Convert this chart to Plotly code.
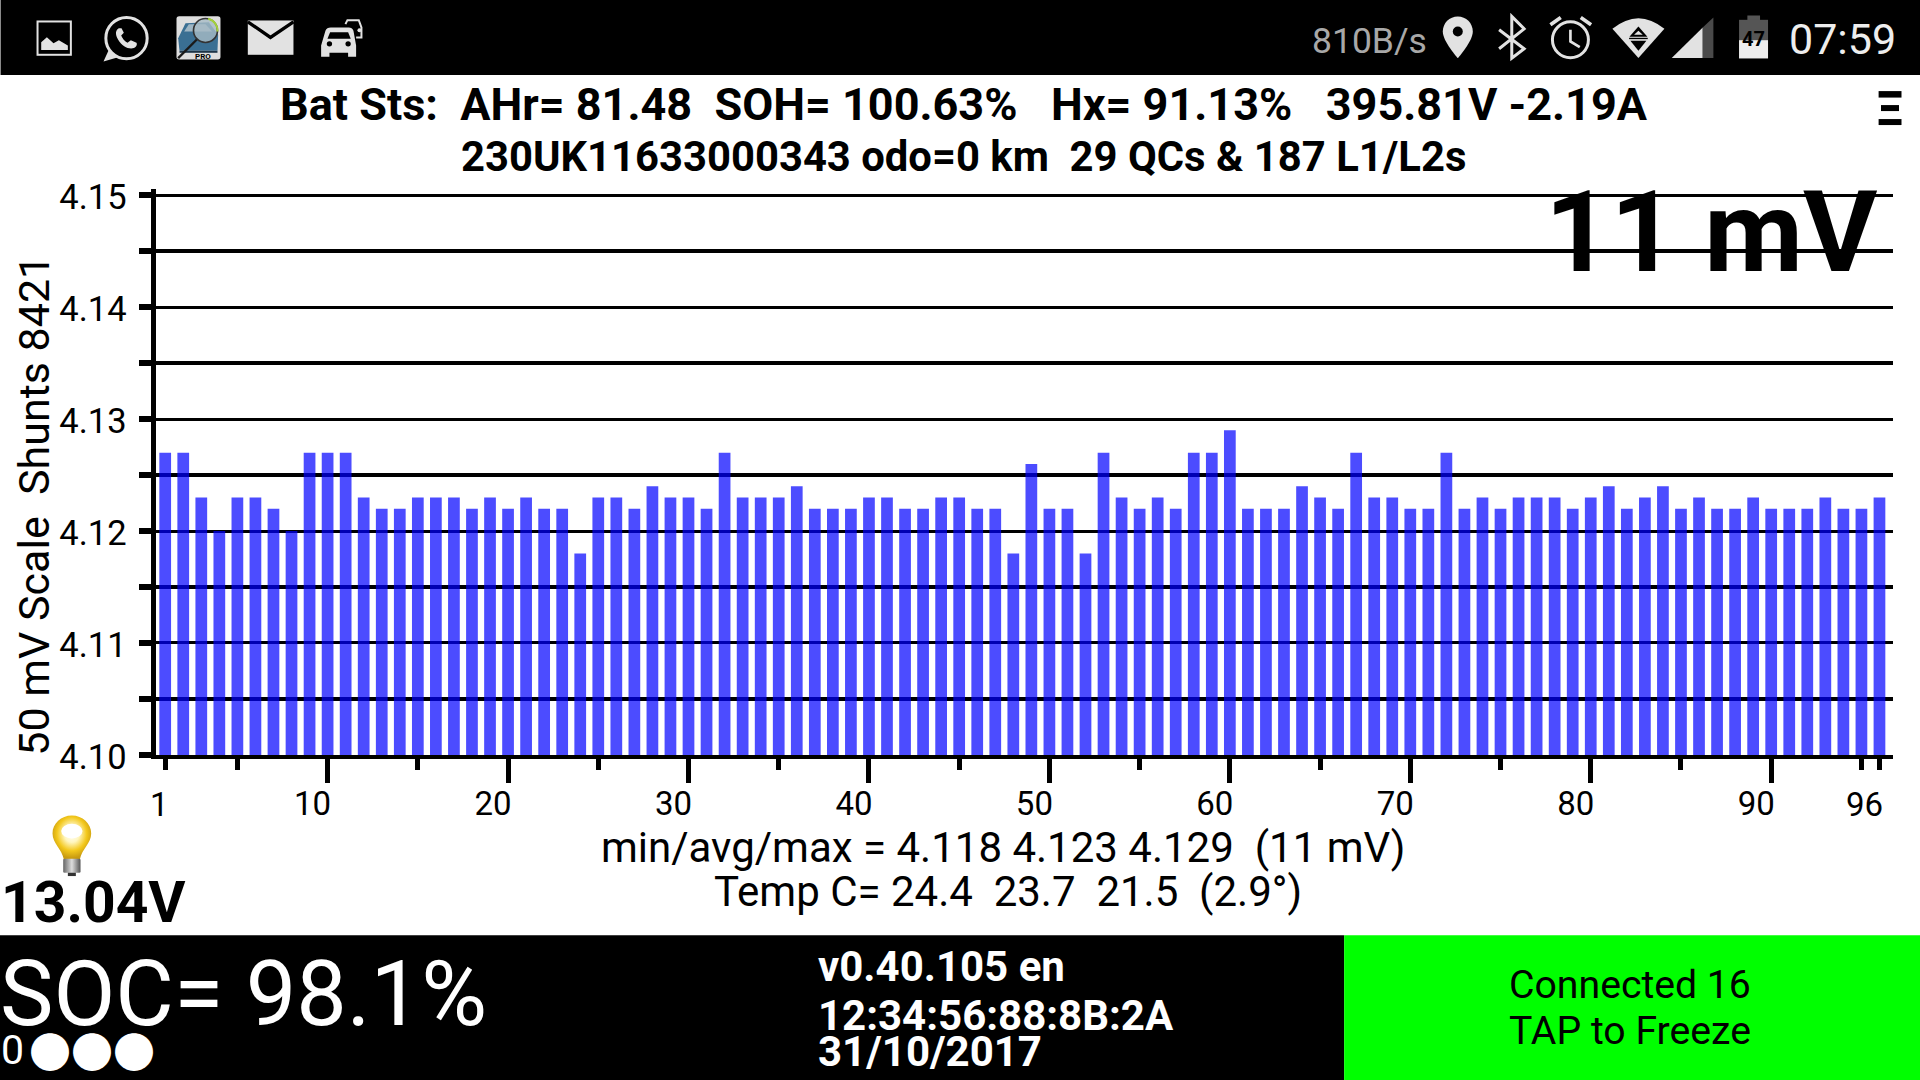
import base64
import plotly.graph_objects as go

cells = list(range(1, 97))
volts = [
    4.127, 4.127, 4.123, 4.120, 4.123, 4.123, 4.122, 4.120, 4.127, 4.127, 4.127, 4.123,
    4.122, 4.122, 4.123, 4.123, 4.123, 4.122, 4.123, 4.122, 4.123, 4.122, 4.122, 4.118,
    4.123, 4.123, 4.122, 4.124, 4.123, 4.123, 4.122, 4.127, 4.123, 4.123, 4.123, 4.124,
    4.122, 4.122, 4.122, 4.123, 4.123, 4.122, 4.122, 4.123, 4.123, 4.122, 4.122, 4.118,
    4.126, 4.122, 4.122, 4.118, 4.127, 4.123, 4.122, 4.123, 4.122, 4.127, 4.127, 4.129,
    4.122, 4.122, 4.122, 4.124, 4.123, 4.122, 4.127, 4.123, 4.123, 4.122, 4.122, 4.127,
    4.122, 4.123, 4.122, 4.123, 4.123, 4.123, 4.122, 4.123, 4.124, 4.122, 4.123, 4.124,
    4.122, 4.123, 4.122, 4.122, 4.123, 4.122, 4.122, 4.122, 4.123, 4.122, 4.122, 4.123,
]
y_major = [4.10, 4.11, 4.12, 4.13, 4.14, 4.15]
y_minor = [4.105, 4.115, 4.125, 4.135, 4.145]
x_major = [10, 20, 30, 40, 50, 60, 70, 80, 90]
x_minor = [1, 5, 15, 25, 35, 45, 55, 65, 75, 85, 95, 96]

W, H = 1920, 1080
L, R, T, B = 155.5, 1893, 189, 755.5
FONT = "Roboto"


def px(x):
    return (x - L) / (R - L)


def py(y):
    return 1 - (y - T) / (B - T)


def text(s, x, y, size, color="#000000", bold=False, anchor="center", weight=None, family=FONT):
    return dict(
        text=s, x=px(x), y=py(y), xref="paper", yref="paper", showarrow=False,
        xanchor=anchor, yanchor="middle",
        font=dict(family=family, size=size, color=color, weight=weight or (700 if bold else 400)),
    )


def panel(x0, y0, x1, y1, color):
    return dict(type="rect", xref="paper", yref="paper", x0=px(x0), x1=px(x1), y0=py(y0), y1=py(y1),
                fillcolor=color, line=dict(width=0), layer="below")


def svg_image(svg, x, y, w, h, vw, vh):
    body = f'<svg xmlns="http://www.w3.org/2000/svg" viewBox="0 0 {vw} {vh}" width="{w}" height="{h}">{svg}</svg>'
    uri = "data:image/svg+xml;base64," + base64.b64encode(body.encode()).decode()
    return dict(source=uri, xref="paper", yref="paper", x=px(x), y=py(y), sizex=w / (R - L), sizey=h / (B - T),
                xanchor="left", yanchor="top", sizing="stretch", layer="above")


ICON = "#e2e2e2"
left_icons = f'''
<rect x="36" y="40" width="100" height="100" fill="none" stroke="{ICON}" stroke-width="6"/>
<path d="M47 126V102L64 87L84 105L100 96L127 112V126Z" fill="{ICON}"/>
<circle cx="303" cy="90" r="62" fill="none" stroke="{ICON}" stroke-width="9"/>
<path d="M250 125L234 160L275 148Z" fill="{ICON}"/>
<path d="M280 60C270 65 268 78 278 95C290 115 310 125 325 120C335 115 335 108 333 104L316 96L306 104C298 100 290 90 287 82L295 74L288 60Z" fill="{ICON}"/>
<rect x="453" y="24" width="132" height="130" rx="8" fill="#dedede"/>
<path d="M458 90L480 45L550 42L578 80L576 128H462Z" fill="#3a6f93"/>
<path d="M476 70L490 48H540L560 70Z" fill="#9fb6c4"/>
<rect x="462" y="128" width="114" height="6" fill="#1d3447"/>
<circle cx="540" cy="67" r="36" fill="#a8bcc6" fill-opacity="0.8" stroke="#333" stroke-width="5"/>
<path d="M548 32A36 36 0 0 1 576 70" fill="none" stroke="#a4d23a" stroke-width="6"/>
<path d="M514 94L458 150" stroke="#1a1a1a" stroke-width="7"/>
<rect x="667" y="37" width="137" height="103" fill="{ICON}"/>
<path d="M667 41L735 88L804 41" fill="none" stroke="#000" stroke-width="10"/>
<path d="M887 112L900 68Q904 58 916 58H970Q980 58 984 68L992 112V146H968V134H912V146H887Z" fill="{ICON}"/>
<path d="M906 92L914 72H968L976 92Z" fill="#000"/>
<circle cx="912" cy="107" r="8" fill="#000"/><circle cx="968" cy="107" r="8" fill="#000"/>
<path d="M960 48L966 36H1000L1008 58V88H992" fill="none" stroke="{ICON}" stroke-width="6"/>
<circle cx="1002" cy="66" r="6" fill="{ICON}"/>
'''
right_icons = f'''
<path d="M83 25C58 25 38 45 38 70C38 100 83 150 83 150C83 150 128 100 128 70C128 45 108 25 83 25Z" fill="{ICON}"/>
<circle cx="83" cy="70" r="15" fill="#000"/>
<path d="M207 65L282 122L245 150V25L282 62L207 122" fill="none" stroke="{ICON}" stroke-width="9"/>
<circle cx="421" cy="95" r="54" fill="none" stroke="{ICON}" stroke-width="9"/>
<path d="M421 65V100L449 117" fill="none" stroke="{ICON}" stroke-width="8"/>
<path d="M361 50L392 28M452 28L483 50" stroke="{ICON}" stroke-width="11"/>
<path d="M547 62Q625 -2 703 62L625 150Z" fill="{ICON}"/>
<path d="M625 55L652 86H598Z" fill="#000"/><path d="M625 68L638 80H612Z" fill="{ICON}"/>
<rect x="597" y="89" width="56" height="4" fill="#000"/><path d="M601 98H649L625 128Z" fill="#000"/>
<path d="M725 150H818V58Z" fill="{ICON}"/>
<path d="M818 150H850V28L818 58Z" fill="#4a4a4a"/>
<rect x="952" y="22" width="38" height="14" fill="#555"/>
<rect x="927" y="35" width="87" height="61" fill="#555"/>
<rect x="927" y="96" width="87" height="55" fill="#eeeeee"/>
'''
bulb = '''
<defs><radialGradient id="g" cx="0.5" cy="0.42" r="0.55">
<stop offset="0" stop-color="#ffffff"/><stop offset="0.35" stop-color="#fff6c0"/>
<stop offset="0.7" stop-color="#f3c81c"/><stop offset="1" stop-color="#c89a10"/></radialGradient>
<linearGradient id="s" x1="0" x2="1" y1="0" y2="0"><stop offset="0" stop-color="#666"/>
<stop offset="0.5" stop-color="#ddd"/><stop offset="1" stop-color="#555"/></linearGradient></defs>
<path d="M100 18C68 18 42 42 42 72C42 102 70 118 76 150H124C130 118 158 102 158 72C158 42 132 18 100 18Z" fill="url(#g)"/>
<ellipse cx="100" cy="65" rx="32" ry="22" fill="#fff"/>
<rect x="74" y="148" width="52" height="42" rx="4" fill="url(#s)"/>
<rect x="88" y="190" width="24" height="10" fill="#333"/>
'''

shapes = [
    panel(0, -5, W + 5, 75, "#000000"),
    panel(-5, 936, 1344, 1085, "#000000"),
    panel(1344, 936, W + 5, 1085, "#00ff00"),
    panel(1878.6, 91, 1901.5, 97.5, "#000000"),
    panel(1881, 105, 1899, 111, "#000000"),
    panel(1878.6, 119, 1901.5, 125, "#000000"),
]
images = [
    svg_image(left_icons, 25, 8, 350, 60, 1050, 180),
    svg_image(right_icons, 1430, 8, 350, 60, 1050, 180),
    svg_image(bulb, 38, 810, 70, 70, 210, 210),
]
SP = "\u00a0\u00a0"
annotations = [
    text("810B/s", 1369, 41, 35.5, "#a8a8a8"),
    text("07:59", 1842, 39, 43, "#eeeeee"),
    text("47", 1753, 39, 20, "#000000", bold=True),
    text("PRO", 203, 56, 8, "#000000", bold=True),
    text(f"Bat Sts:{SP}AHr= 81.48{SP}SOH= 100.63%{SP}\u00a0Hx= 91.13%{SP}\u00a0395.81V -2.19A", 963.5, 104, 45, bold=True),
    text(f"230UK11633000343 odo=0 km{SP}29 QCs & 187 L1/L2s", 963.5, 156, 41.8, bold=True),
    text("11 mV", 1880, 232, 114, bold=True, anchor="right"),
    text(f"50 mV Scale{SP}Shunts 8421", 33.5, 506, 43),
    text(f"min/avg/max = 4.118 4.123 4.129{SP}(11 mV)", 1003, 848, 42),
    text(f"Temp C= 24.4{SP}23.7{SP}21.5{SP}(2.9\u00b0)", 1008, 892, 42),
    text("13.04V", -2, 903, 57, bold=True, anchor="left"),
    text("SOC= 98.1%", -3, 995, 90, "#ffffff", anchor="left"),
    text("0", -2, 1051, 41, "#ffffff", anchor="left"),
    text("\u25cf\u25cf\u25cf", 91, 1054.5, 42, "#ffffff", family="Roboto, 'Noto Sans CJK JP'"),
    text("v0.40.105 en", 816, 967, 42, "#ffffff", bold=True, anchor="left"),
    text("12:34:56:88:8B:2A", 816, 1016, 42, "#ffffff", bold=True, anchor="left"),
    text("31/10/2017", 816, 1052, 42, "#ffffff", bold=True, anchor="left"),
    text("Connected 16", 1630, 986, 39.2),
    text("TAP to Freeze", 1630, 1032, 39.2),
    dict(text="1", x=1, xref="x", y=py(805), yref="paper", showarrow=False, xshift=-6, yanchor="middle",
         font=dict(family=FONT, size=33, color="#000000")),
    dict(text="96", x=96, xref="x", y=py(805), yref="paper", showarrow=False, xshift=-15, yanchor="middle",
         font=dict(family=FONT, size=33, color="#000000")),
]
annotations[7]["textangle"] = -90

fig = go.Figure(go.Bar(x=cells, y=volts, marker=dict(color="rgba(0,0,255,0.7)", line=dict(width=0)), hoverinfo="skip"))
fig.update_layout(
    width=W, height=H, margin=dict(l=L, r=W - R, t=T, b=H - B, pad=0, autoexpand=False),
    paper_bgcolor="#ffffff", plot_bgcolor="#ffffff", bargap=0.35, showlegend=False,
    font=dict(family=FONT, color="#000000"), shapes=shapes, images=images, annotations=annotations,
    xaxis=dict(
        range=[0.49, 96.75], tickmode="array", tickvals=x_major, ticktext=[str(v) for v in x_major],
        ticks="outside", ticklen=24, tickwidth=5, tickcolor="#000000", ticklabelshift=-15, ticklabelstandoff=-8,
        tickfont=dict(family=FONT, size=33, color="#000000"), showgrid=False, zeroline=False,
        showline=True, linecolor="#000000", linewidth=4, tickangle=0, automargin=False,
        minor=dict(tickmode="array", tickvals=x_minor, ticks="outside", ticklen=11, tickwidth=5,
                   tickcolor="#000000", showgrid=False),
    ),
    yaxis=dict(
        range=[4.09999, 4.15057], tickmode="array", tickvals=y_major, ticktext=[f"{v:.2f}" for v in y_major],
        ticks="outside", ticklen=12.5, tickwidth=6, tickcolor="#000000", ticklabelshift=2, ticklabelstandoff=5,
        tickfont=dict(family=FONT, size=34.5, color="#000000"), showgrid=True, gridcolor="#000000", gridwidth=2.5,
        zeroline=False, showline=True, linecolor="#000000", linewidth=5, automargin=False,
        minor=dict(tickmode="array", tickvals=y_minor, ticks="outside", ticklen=12.5, tickwidth=6,
                   tickcolor="#000000", showgrid=True, gridcolor="#000000", gridwidth=3.5),
    ),
)
fig.write_html("out.html", config=dict(displayModeBar=False),
               post_script="document.body.style.margin='0';document.body.style.overflow='hidden';")
